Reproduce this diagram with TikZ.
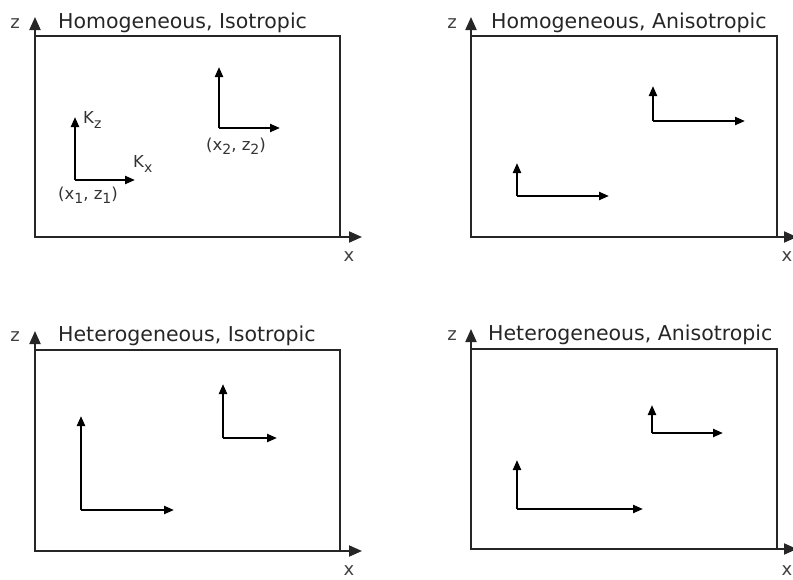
\documentclass[tikz,border=0pt]{standalone}
\usepackage{fontspec}
\setmainfont{DejaVu Sans}
\usetikzlibrary{arrows.meta}
\newcommand{\lowsub}[1]{\raisebox{-0.45ex}{\scalebox{0.85}{#1}}}
\tikzset{
  frame/.style={line width=1.9pt, black!85},
  axisarrow/.style={line width=1.9pt, black!85, -{Triangle[length=13pt,width=11pt]}},
  vec/.style={line width=2.2pt, -{Triangle[length=10pt,width=8pt]}},
  ttl/.style={anchor=base west, inner sep=0pt, font=\fontsize{20.5}{22}\selectfont, text=black!85},
  axlbl/.style={inner sep=0pt, font=\fontsize{18}{20}\selectfont, text=black!75},
  lbl/.style={inner sep=0pt, font=\fontsize{16.5}{18}\selectfont, text=black!80},
  org/.style={inner sep=0pt, minimum size=0pt}
}
\begin{document}
\begin{tikzpicture}[x=1pt,y=-1pt]
\useasboundingbox (0,0) rectangle (793,579);
% ---------- panel 1: Homogeneous, Isotropic ----------
\coordinate (p1sw) at (35,237);
\coordinate (p1ne) at (340,36);
\coordinate (p1zt) at (35,17);
\coordinate (p1xt) at (362,237);
\draw[frame] (p1sw) rectangle (p1ne);
\draw[axisarrow] (p1sw) -- (p1zt);
\draw[axisarrow] (p1sw) -- (p1xt);
\node[ttl] (t1) at (58,28) {Homogeneous, Isotropic};
\node[axlbl, anchor=base] (z1) at (15,28) {z};
\node[axlbl] (x1) at (349,257) {x};
\node[org] (a1) at (75,180) {};
\coordinate (a1z) at (75,117);
\coordinate (a1x) at (135,180);
\draw[vec] (a1.center) -- (a1z);
\draw[vec] (a1.center) -- (a1x);
\node[lbl, anchor=west] (kz) at (83,120) {K\lowsub{z}};
\node[lbl, anchor=west] (kx) at (133,164) {K\lowsub{x}};
\node[lbl] (c1) at (88,195) {(x\lowsub{1}, z\lowsub{1})};
\node[org] (b1) at (219,128) {};
\coordinate (b1z) at (219,67);
\coordinate (b1x) at (280,128);
\draw[vec] (b1.center) -- (b1z);
\draw[vec] (b1.center) -- (b1x);
\node[lbl] (c2) at (236,146) {(x\lowsub{2}, z\lowsub{2})};
% ---------- panel 2: Homogeneous, Anisotropic ----------
\coordinate (p2sw) at (471,237);
\coordinate (p2ne) at (777,36);
\coordinate (p2zt) at (471,17);
\coordinate (p2xt) at (797,237);
\draw[frame] (p2sw) rectangle (p2ne);
\draw[axisarrow] (p2sw) -- (p2zt);
\draw[axisarrow] (p2sw) -- (p2xt);
\node[ttl] (t2) at (491,28) {Homogeneous, Anisotropic};
\node[axlbl, anchor=base] (z2) at (452,28) {z};
\node[axlbl] (x2) at (787,257) {x};
\node[org] (a2) at (517,196) {};
\coordinate (a2z) at (517,163);
\coordinate (a2x) at (609,196);
\draw[vec] (a2.center) -- (a2z);
\draw[vec] (a2.center) -- (a2x);
\node[org] (b2) at (653,121) {};
\coordinate (b2z) at (653,86);
\coordinate (b2x) at (745,121);
\draw[vec] (b2.center) -- (b2z);
\draw[vec] (b2.center) -- (b2x);
% ---------- panel 3: Heterogeneous, Isotropic ----------
\coordinate (p3sw) at (35,551);
\coordinate (p3ne) at (340,350);
\coordinate (p3zt) at (35,331);
\coordinate (p3xt) at (362,551);
\draw[frame] (p3sw) rectangle (p3ne);
\draw[axisarrow] (p3sw) -- (p3zt);
\draw[axisarrow] (p3sw) -- (p3xt);
\node[ttl] (t3) at (58,341) {Heterogeneous, Isotropic};
\node[axlbl, anchor=base] (z3) at (15,341) {z};
\node[axlbl] (x3) at (349,571) {x};
\node[org] (a3) at (81,510) {};
\coordinate (a3z) at (81,416);
\coordinate (a3x) at (174,510);
\draw[vec] (a3.center) -- (a3z);
\draw[vec] (a3.center) -- (a3x);
\node[org] (b3) at (223,438) {};
\coordinate (b3z) at (223,384);
\coordinate (b3x) at (277,438);
\draw[vec] (b3.center) -- (b3z);
\draw[vec] (b3.center) -- (b3x);
% ---------- panel 4: Heterogeneous, Anisotropic ----------
\coordinate (p4sw) at (471,549);
\coordinate (p4ne) at (777,349);
\coordinate (p4zt) at (471,329);
\coordinate (p4xt) at (797,549);
\draw[frame] (p4sw) rectangle (p4ne);
\draw[axisarrow] (p4sw) -- (p4zt);
\draw[axisarrow] (p4sw) -- (p4xt);
\node[ttl] (t4) at (488,340) {Heterogeneous, Anisotropic};
\node[axlbl, anchor=base] (z4) at (452,340) {z};
\node[axlbl] (x4) at (787,571) {x};
\node[org] (a4) at (517,509) {};
\coordinate (a4z) at (517,460);
\coordinate (a4x) at (643,509);
\draw[vec] (a4.center) -- (a4z);
\draw[vec] (a4.center) -- (a4x);
\node[org] (b4) at (652,433) {};
\coordinate (b4z) at (652,405);
\coordinate (b4x) at (723,433);
\draw[vec] (b4.center) -- (b4z);
\draw[vec] (b4.center) -- (b4x);
\end{tikzpicture}
\end{document}
